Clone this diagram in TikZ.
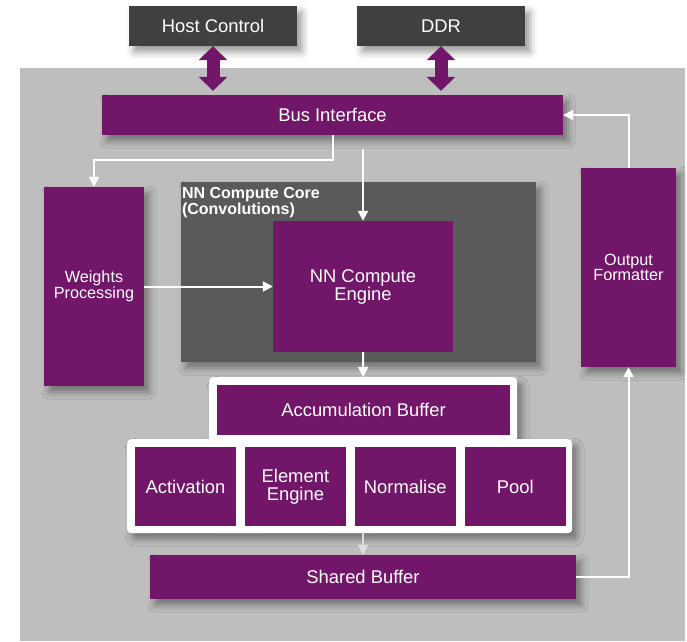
\documentclass[tikz,border=0pt]{standalone}
\usepackage{fontspec}
\setmainfont{Liberation Sans}
\usetikzlibrary{arrows.meta,positioning,calc,shadows.blur}
\definecolor{block_color}{RGB}{114,22,106}
\definecolor{host_color}{RGB}{64,64,64}
\definecolor{core_color}{RGB}{90,90,90}
\definecolor{chip_color}{RGB}{190,190,190}
\definecolor{faint_color}{RGB}{222,222,222}
\tikzset{
  soft_shadow/.style={
    blur shadow={shadow xshift=5pt, shadow yshift=-6pt,
                 shadow blur radius=7pt, shadow opacity=40}
  },
  chip/.style={fill=chip_color, inner sep=0pt},
  extblock/.style={
    fill=host_color, text=white, inner sep=0pt, soft_shadow,
    font=\fontsize{18.4}{18.4}\selectfont
  },
  block/.style={
    fill=block_color, text=white, inner sep=0pt, align=center,
    font=\fontsize{18.4}{18}\selectfont
  },
  smalltext/.style={font=\fontsize{16.2}{15}\selectfont},
  opblock/.style={block, minimum width=101pt, minimum height=79pt},
  coreblock/.style={fill=core_color, inner sep=0pt, soft_shadow},
  frame/.style={fill=white, rounded corners=4pt, inner sep=0pt, soft_shadow},
  flow/.style={draw=white, line width=2pt, -{Triangle[length=10pt, width=10pt]}},
  busio/.style={
    draw=block_color, line width=13pt,
    {Triangle[length=14pt, width=28pt]}-{Triangle[length=14pt, width=28pt]},
    shorten >=4pt
  }
}

\begin{document}
\begin{tikzpicture}[x=1pt, y=-1pt]
\useasboundingbox (0,0) rectangle (687,641);

\node[chip, minimum width=665pt, minimum height=573pt, anchor=north west] (chip) at (20,68) {};

\node[extblock, minimum width=168pt, minimum height=40pt] (host) at (213,26) {Host Control};
\node[extblock, minimum width=168pt, minimum height=40pt] (ddr) at (441,26) {DDR};

\node[block, soft_shadow, minimum width=461pt, minimum height=40pt] (bus) at (332.5,115) {Bus Interface};
\node[block, soft_shadow, smalltext, minimum width=100pt, minimum height=199pt] (weights) at (94,286.5) {Weights\\Processing};

% convolution core
\node[coreblock, minimum width=355pt, minimum height=180pt] (core) at (358.5,272) {};
\node[anchor=north west, inner sep=0pt, align=left, text=white,
      font=\bfseries\fontsize{16}{14}\selectfont] (core_label) at ($(core.north west)+(1,5)$) {NN Compute Core\\(Convolutions)};
\node[block, minimum width=180pt, minimum height=131pt] (engine) at (363,286.5) {NN Compute\\Engine};

\node[block, soft_shadow, smalltext, minimum width=95pt, minimum height=199pt] (outfmt) at (628.5,267.5) {Output\\Formatter};

% post-processing stages
\node[frame, minimum width=308pt, minimum height=68pt, anchor=north west] (acc_frame) at (209,377) {};
\node[frame, minimum width=445pt, minimum height=94pt, anchor=north west] (ops_frame) at (127,439) {};
\node[block, minimum width=293pt, minimum height=50pt] (acc) at (363.5,410) {Accumulation Buffer};
\node[opblock] (act) at (185.5,486.5) {Activation};
\node[opblock, right=8.5pt of act] (elem) {Element\\Engine};
\node[opblock, right=8.5pt of elem] (norm) {Normalise};
\node[opblock, right=8.5pt of norm] (pool) {Pool};

\node[block, soft_shadow, minimum width=426pt, minimum height=44pt] (shared) at (363,577) {Shared Buffer};

\draw[busio] (host.south) -- (bus.north -| host.south);
\draw[busio] (ddr.south) -- (bus.north -| ddr.south);

\coordinate (engine_feed) at ($(engine.north)+(0,-72)$);
\draw[flow] (bus.south) -- ++(0,25) -| (weights.north);
\draw[flow] (engine_feed) -- (engine.north);
\draw[flow] (weights.east) -- (engine.west);
\draw[flow] (engine.south) -- (acc_frame.north);
\draw[flow, draw=faint_color] (ops_frame.south -| shared.north) -- (shared.north);
\draw[flow] (shared.east) -| (outfmt.south);
\draw[flow] (outfmt.north) |- (bus.east);

\end{tikzpicture}
\end{document}
